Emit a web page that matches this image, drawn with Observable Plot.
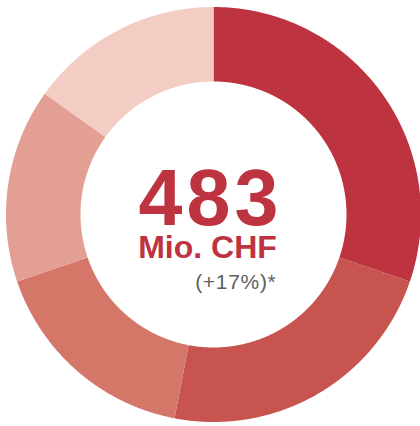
<!DOCTYPE html>
<html>
<head>
<meta charset="utf-8">
<script src="https://cdn.jsdelivr.net/npm/d3@7"></script>
<script src="https://cdn.jsdelivr.net/npm/@observablehq/plot@0.6"></script>
<style>
  html, body { margin: 0; padding: 0; background: #fff; }
  #chart { width: 420px; height: 426px; overflow: hidden; }
</style>
</head>
<body>
<div id="chart"></div>
<script>
// Data
const categories = ["Segment 1", "Segment 2", "Segment 3", "Segment 4", "Segment 5"];
const values = [146, 110, 81, 73, 73]; // Mio. CHF, total 483
const colors = ["#bd3340", "#c8544f", "#d47769", "#e39f93", "#f3cdc3"];
const totalLabel = "483";
const unitLabel = "Mio. CHF";
const changeLabel = "(+17%)*";

const W = 420, H = 426;
const cx = 213, cy = 214, R = 207.5, r = 133;
const inner = r / R;

const arcs = d3.pie().sort(null).value(d => d.value)(
  categories.map((c, i) => ({category: c, value: values[i]}))
);

const pts = [];
for (const a of arcs) {
  const n = Math.max(4, Math.ceil((a.endAngle - a.startAngle) / 0.005));
  for (let k = 0; k <= n; k++) {
    const t = a.startAngle + (a.endAngle - a.startAngle) * k / n;
    pts.push({category: a.data.category, x: Math.sin(t), y: Math.cos(t)});
  }
  for (let k = n; k >= 0; k--) {
    const t = a.startAngle + (a.endAngle - a.startAngle) * k / n;
    pts.push({category: a.data.category, x: inner * Math.sin(t), y: inner * Math.cos(t)});
  }
}

const font = "'Liberation Sans', Arial, Helvetica, sans-serif";

const plot = Plot.plot({
  width: W,
  height: H,
  margin: 0,
  x: {domain: [-1, 1], range: [cx - R, cx + R], axis: null},
  y: {domain: [-1, 1], range: [cy + R, cy - R], axis: null},
  color: {domain: categories, range: colors},
  style: {background: "transparent", overflow: "visible"},
  marks: [
    Plot.line(pts, {x: "x", y: "y", z: "category", fill: "category", stroke: "none", curve: "linear"}),
    Plot.text([totalLabel], {x: 0, y: 0, text: d => d, fontFamily: font, fontWeight: "bold", fontSize: 79,
      fill: colors[0], lineAnchor: "bottom", dy: 10, dx: -3, textAnchor: "middle", className: "big"}),
    Plot.text([unitLabel], {x: 0, y: 0, text: d => d, fontFamily: font, fontWeight: "bold", fontSize: 32,
      fill: colors[0], lineAnchor: "bottom", dy: 43, dx: -6, textAnchor: "middle"}),
    Plot.text([changeLabel], {x: 0, y: 0, text: d => d, fontFamily: font, fontWeight: "normal", fontSize: 21,
      fill: "#5e5e5e", lineAnchor: "bottom", dy: 74, dx: 63, textAnchor: "end", className: "chg"})
  ]
});

d3.select(plot).selectAll(".big text").style("letter-spacing", "4px");
d3.select(plot).selectAll(".chg text").style("letter-spacing", "0.7px");
document.getElementById("chart").appendChild(plot);
</script>
</body>
</html>
